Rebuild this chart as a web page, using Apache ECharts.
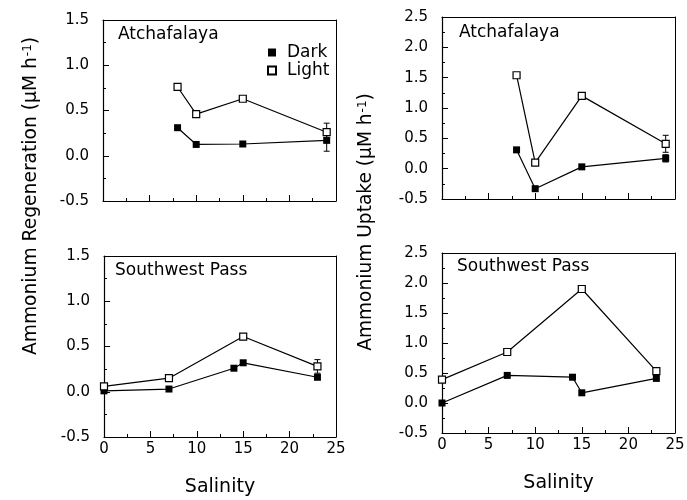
<!DOCTYPE html>
<html>
<head>
<meta charset="utf-8">
<script src="https://cdn.jsdelivr.net/npm/echarts@6.0.0/dist/echarts.min.js"></script>
<style>
  html, body { margin: 0; padding: 0; background: #fff; }
  #chart { width: 687px; height: 500px; }
</style>
</head>
<body>
<div id="chart"></div>
<script>
// salinity of the stations
const salAtch = [8, 10, 15, 24]
const salSwLight = [0, 7, 15, 23]
const salSwDark = [0, 7, 14, 15, 23]

// ammonium regeneration (uM/h)
const regenAtchDark = [0.31, 0.125, 0.13, 0.17]
const regenAtchLight = [0.76, 0.46, 0.63, 0.26]
const regenSwDark = [0.01, 0.03, 0.26, 0.32, 0.16]
const regenSwLight = [0.06, 0.15, 0.61, 0.28]

// ammonium uptake (uM/h)
const upAtchDark = [0.31, -0.33, 0.03, 0.17]
const upAtchLight = [1.54, 0.10, 1.20, 0.41]
const upSwDark = [0.0, 0.46, 0.43, 0.17, 0.41]
const upSwLight = [0.39, 0.85, 1.90, 0.53]

// error bars: [salinity, value, +/-]
const errRegenAtch = [[24, 0.26, 0.10], [24, 0.17, 0.12]]
const errUpAtch = [[24, 0.41, 0.14], [24, 0.17, 0.06]]
const errRegenSw = [[23, 0.28, 0.075]]
const errUpSw = []

const yTicksRegen = [-0.5, 1.5]
const yTicksUptake = [-0.5, 2.5]
const xTicks = [0, 25]

const font = 'DejaVu Sans'

function pairs (xs, ys) {
  return xs.map((x, i) => [x, ys[i]])
}

function xAxis (idx, showLabel) {
  return {
    type: 'value',
    gridIndex: idx,
    min: xTicks[0],
    max: xTicks[1],
    interval: 5,
    axisLine: { onZero: false, lineStyle: { color: '#000', width: 1.2 } },
    axisTick: { inside: true, length: 6, lineStyle: { color: '#000' } },
    minorTick: { show: true, splitNumber: 2, length: 3, lineStyle: { color: '#000' } },
    splitLine: { show: false },
    axisLabel: { show: showLabel, color: '#000', fontSize: 15, fontFamily: font, margin: 5 },
    name: showLabel ? 'Salinity' : '',
    nameLocation: 'middle',
    nameGap: 41,
    nameTextStyle: { color: '#000', fontSize: 19, fontFamily: font }
  }
}

function yAxis (idx, range) {
  return {
    type: 'value',
    gridIndex: idx,
    min: range[0],
    max: range[1],
    interval: 0.5,
    axisLine: { onZero: false, lineStyle: { color: '#000', width: 1.2 } },
    axisTick: { inside: true, length: 6, lineStyle: { color: '#000' } },
    minorTick: { show: true, splitNumber: 2, length: 3, lineStyle: { color: '#000' } },
    splitLine: { show: false },
    axisLabel: {
      color: '#000',
      fontSize: 15,
      fontFamily: font,
      margin: 14,
      formatter: v => v.toFixed(1)
    }
  }
}

// plain line on the far side of the box (top / right)
function frameAxis (idx, pos, range) {
  return {
    type: 'value',
    gridIndex: idx,
    position: pos,
    min: range[0],
    max: range[1],
    axisLine: { show: true, onZero: false, lineStyle: { color: '#000', width: 1 } },
    axisTick: { show: false },
    axisLabel: { show: false },
    splitLine: { show: false }
  }
}

function darkSeries (idx, data) {
  return {
    name: 'Dark',
    type: 'line',
    xAxisIndex: idx,
    yAxisIndex: idx,
    data: data,
    symbol: 'rect',
    symbolSize: 7,
    itemStyle: { color: '#000' },
    lineStyle: { color: '#000', width: 1.2 },
    z: 3
  }
}

function lightSeries (idx, data) {
  return {
    name: 'Light',
    type: 'line',
    xAxisIndex: idx,
    yAxisIndex: idx,
    data: data,
    symbol: 'rect',
    symbolSize: 7,
    showAllSymbol: true,
    itemStyle: { color: '#fff', borderColor: '#000', borderWidth: 1.2 },
    lineStyle: { color: '#000', width: 1.2 },
    z: 4
  }
}

function errorSeries (idx, data) {
  return {
    name: 'err' + idx,
    type: 'custom',
    xAxisIndex: idx,
    yAxisIndex: idx,
    data: data,
    z: 2,
    renderItem (params, api) {
      const x = api.value(0)
      const y = api.value(1)
      const e = api.value(2)
      const top = api.coord([x, y + e])
      const bot = api.coord([x, y - e])
      const st = { stroke: '#000', lineWidth: 1 }
      return {
        type: 'group',
        children: [
          { type: 'line', shape: { x1: top[0], y1: top[1], x2: bot[0], y2: bot[1] }, style: st },
          { type: 'line', shape: { x1: top[0] - 3, y1: top[1], x2: top[0] + 3, y2: top[1] }, style: st },
          { type: 'line', shape: { x1: bot[0] - 3, y1: bot[1], x2: bot[0] + 3, y2: bot[1] }, style: st }
        ]
      }
    }
  }
}

function panelTitle (x, y, text) {
  return {
    type: 'text',
    left: x,
    top: y,
    style: { text: text, fill: '#000', fontSize: 17, fontFamily: font }
  }
}

function axisTitle (x, y, text, size) {
  return {
    type: 'text',
    x: x,
    y: y,
    rotation: Math.PI / 2,
    style: {
      text: text + ' (\u03bcM h{sup|-1})',
      fill: '#000',
      fontSize: size,
      fontFamily: font,
      align: 'center',
      verticalAlign: 'middle',
      rich: {
        sup: { fontSize: Math.round(size * 0.65), fontFamily: font, verticalAlign: 'top', padding: [0, 0, 0, 1] }
      }
    }
  }
}

const grid = [
  { left: 103, top: 20, width: 233, height: 181 },
  { left: 442, top: 17, width: 233, height: 182 },
  { left: 104, top: 256, width: 232, height: 181 },
  { left: 442, top: 253, width: 233, height: 180 }
].map(g => Object.assign(g, { outerBoundsMode: 'none' }))

const yRanges = [yTicksRegen, yTicksUptake, yTicksRegen, yTicksUptake]

const option = {
  animation: false,
  backgroundColor: '#fff',
  grid: grid,
  legend: {
    data: [{ name: 'Dark', icon: 'rect' }, { name: 'Light', icon: 'rect' }],
    orient: 'vertical',
    left: 262,
    top: 39,
    itemWidth: 8,
    itemHeight: 8,
    itemGap: 1,
    selectedMode: false,
    textStyle: { color: '#000', fontSize: 17, fontFamily: font, padding: [0, 0, 0, 6] }
  },
  xAxis: [
    xAxis(0, false), xAxis(1, false), xAxis(2, true), xAxis(3, true),
    frameAxis(0, 'top', xTicks), frameAxis(1, 'top', xTicks), frameAxis(2, 'top', xTicks), frameAxis(3, 'top', xTicks)
  ],
  yAxis: [
    yAxis(0, yTicksRegen), yAxis(1, yTicksUptake), yAxis(2, yTicksRegen), yAxis(3, yTicksUptake)
  ].concat(yRanges.map((r, i) => frameAxis(i, 'right', r))),
  series: [
    errorSeries(0, errRegenAtch),
    darkSeries(0, pairs(salAtch, regenAtchDark)),
    lightSeries(0, pairs(salAtch, regenAtchLight)),
    errorSeries(1, errUpAtch),
    darkSeries(1, pairs(salAtch, upAtchDark)),
    lightSeries(1, pairs(salAtch, upAtchLight)),
    errorSeries(2, errRegenSw),
    darkSeries(2, pairs(salSwDark, regenSwDark)),
    lightSeries(2, pairs(salSwLight, regenSwLight)),
    errorSeries(3, errUpSw),
    darkSeries(3, pairs(salSwDark, upSwDark)),
    lightSeries(3, pairs(salSwLight, upSwLight))
  ],
  graphic: [
    panelTitle(118, 26, 'Atchafalaya'),
    panelTitle(459, 24, 'Atchafalaya'),
    panelTitle(115, 262, 'Southwest Pass'),
    panelTitle(457, 258, 'Southwest Pass'),
    axisTitle(31, 196, 'Ammonium Regeneration', 18.7),
    axisTitle(366, 222, 'Ammonium Uptake', 18.6)
  ]
}

const chart = echarts.init(document.getElementById('chart'))
chart.setOption(option)
window.addEventListener('resize', () => chart.resize())
</script>
</body>
</html>
